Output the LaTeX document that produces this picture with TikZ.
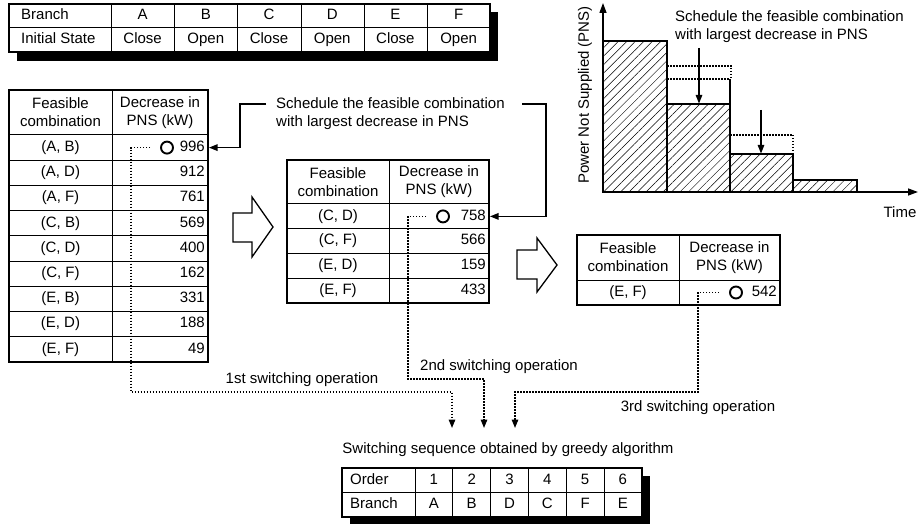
\documentclass[tikz,border=0pt]{standalone}
\usepackage{fontspec}
\setmainfont{Liberation Sans}
\usetikzlibrary{arrows.meta,patterns.meta,positioning}

\tikzset{
  txt/.style={font=\fontsize{15}{18}\selectfont, inner sep=0pt},
  cell/.style={txt, text height=10.8pt, text depth=3.2pt},
  tabframe/.style={line width=1.3pt},
  rule/.style={line width=1pt},
  pick/.style={circle, draw, line width=1.9pt, minimum size=12pt, inner sep=0pt},
  dotline/.style={line width=1.5pt, dash pattern=on 1.5pt off 1.5pt},
  lead/.style={line width=1.3pt},
  tip/.style={-{Triangle[width=6.5pt,length=8.5pt]}},
  hatch/.style={draw, line width=1.3pt, pattern={Lines[angle=45,distance=6pt,line width=0.5pt]}},
}

\begin{document}
\begin{tikzpicture}[x=1pt,y=-1pt]
\useasboundingbox (0,0) rectangle (919,524);

% initial state of the branches
\fill (17,12) rectangle (498,61);
\draw[tabframe,fill=white] (9,4) rectangle (490,52);
\draw[rule] (9,28) -- (490,28);
\foreach \x in {111,174,237,301,364,427} \draw[rule] (\x,4) -- (\x,52);
\node[cell,anchor=west] (hbr) at (21,16) {Branch};
\node[cell,anchor=west] (hst) at (21,40) {Initial State};
\foreach \b/\s [count=\i] in {A/Close,B/Open,C/Close,D/Open,E/Close,F/Open}{
  \node[cell] (br\b) at (79.4+63.2*\i,16) {\b};
  \node[cell] (st\b) at (79.4+63.2*\i,40) {\s};
}

% first round
\draw[tabframe] (9,90) rectangle (208,362);
\draw[rule] (112,90) -- (112,362);
\foreach \k in {0,...,8} \draw[rule] (9,135+25.2*\k) -- (208,135+25.2*\k);
\node[txt,align=center] (lh1) at (60.5,112.5) {Feasible\\combination};
\node[txt,align=center] (lh2) at (160,112.5) {Decrease in\\PNS (kW)};
\foreach \a/\b/\v [count=\i] in {A/B/996,A/D/912,A/F/761,C/B/569,C/D/400,C/F/162,E/B/331,E/D/188,E/F/49}{
  \node[cell] (lc\i) at (60.5,122.4+25.2*\i) {(\a, \b)};
  \node[cell,anchor=east] (lv\i) at (205,122.4+25.2*\i) {\v};
}
\node[pick] (p1) at (167,147.6) {};

% second round
\draw[tabframe] (287,160) rectangle (489,303);
\draw[rule] (389,160) -- (389,303);
\foreach \k in {0,...,3} \draw[rule] (287,204+24.75*\k) -- (489,204+24.75*\k);
\node[txt,align=center] (mh1) at (338,182) {Feasible\\combination};
\node[txt,align=center] (mh2) at (439,182) {Decrease in\\PNS (kW)};
\foreach \a/\b/\v [count=\i] in {C/D/758,C/F/566,E/D/159,E/F/433}{
  \node[cell] (mc\i) at (338,191.6+24.75*\i) {(\a, \b)};
  \node[cell,anchor=east] (mv\i) at (486,191.6+24.75*\i) {\v};
}
\node[pick] (p2) at (443,216.4) {};

% third round
\draw[tabframe] (577,235) rectangle (780,305);
\draw[rule] (679,235) -- (679,305);
\draw[rule] (577,280) -- (780,280);
\node[txt,align=center] (rh1) at (628,257.5) {Feasible\\combination};
\node[txt,align=center] (rh2) at (729.5,257.5) {Decrease in\\PNS (kW)};
\node[cell] (rc1) at (628,292.5) {(E, F)};
\node[cell,anchor=east] (rv1) at (777,292.5) {542};
\node[pick] (p3) at (736,292.5) {};

% hollow arrows between the rounds
\draw[lead] (233,213) -- (252,213) -- (252,197) -- (273,227) -- (252,257) -- (252,242) -- (233,242) -- cycle;
\draw[lead] (517,250) -- (537,250) -- (537,238) -- (557,265) -- (537,292) -- (537,279) -- (517,279) -- cycle;

% schedule the largest one
\node[txt,align=left,anchor=north west] (sch1) at (276,97) {Schedule the feasible combination\\with largest decrease in PNS};
\coordinate (sl) at (266,104);
\coordinate (sr) at (522,104);
\coordinate (in1) at (209,147.6);
\coordinate (in2) at (490,216.4);
\draw[lead,tip] (sl) -- ++(-26,0) |- (in1);
\draw[lead,tip] (sr) -- ++(24,0) |- (in2);

% switching operations
\coordinate (t1) at (452,428);
\coordinate (t2) at (484,428);
\coordinate (t3) at (515,428);
\draw[dotline,tip] ([xshift=-10pt]p1.west) -| (131,392) -| (t1);
\draw[dotline,tip] ([xshift=-10pt]p2.west) -| (408,379) -| (t2);
\draw[dotline,tip] ([xshift=-10pt]p3.west) -| (698,392) -| (t3);
\node[txt] (op1) at (302,380) {1st switching operation};
\node[txt] (op2) at (499,367) {2nd switching operation};
\node[txt] (op3) at (698,408) {3rd switching operation};

% resulting sequence
\node[txt] (seq) at (508,450) {Switching sequence obtained by greedy algorithm};
\fill (350,476) rectangle (650,526);
\draw[tabframe,fill=white] (342,468) rectangle (642,517);
\draw[rule] (342,492.5) -- (642,492.5);
\foreach \k in {0,...,5} \draw[rule] (415+37.8*\k,468) -- (415+37.8*\k,517);
\node[cell,anchor=west] (ord) at (350,480.5) {Order};
\node[cell,anchor=west] (obr) at (350,505) {Branch};
\foreach \b [count=\i] in {A,B,D,C,F,E}{
  \node[cell] (on\i) at (396.1+37.8*\i,480.5) {\i};
  \node[cell] (ob\i) at (396.1+37.8*\i,505) {\b};
}

% PNS over time
\coordinate (o) at (603,192);
\coordinate (ytop) at (603,3);
\coordinate (xend) at (918,192);
\draw[hatch] (603,192) rectangle (667,41);
\draw[hatch] (667,192) rectangle (730,104);
\draw[hatch] (730,192) rectangle (793,154);
\draw[hatch] (793,192) rectangle (857,180);
\draw[dotline] (667,66) -- (731,66) -- (731,79);
\draw[dotline] (667,79) -- (730,79);
\draw[lead] (730,79) -- (730,104);
\draw[dotline] (730,135) -- (793,135) -- (793,154);
\draw[lead,-{Triangle[width=7pt,length=10pt]}] (o) -- (ytop);
\draw[lead,-{Triangle[width=7pt,length=10pt]}] (o) -- (xend);
\coordinate (d1) at (699,48);
\coordinate (d2) at (761,110);
\draw[lead,tip] (d1) -- (699,103.5);
\draw[lead,tip] (d2) -- (761,153.5);
\node[txt,rotate=90] (pns) at (585,95) {Power Not Supplied (PNS)};
\node[txt] (time) at (900,212) {Time};
\node[txt,align=left,anchor=north west] (sch2) at (675,10) {Schedule the feasible combination\\with largest decrease in PNS};
\end{tikzpicture}
\end{document}
